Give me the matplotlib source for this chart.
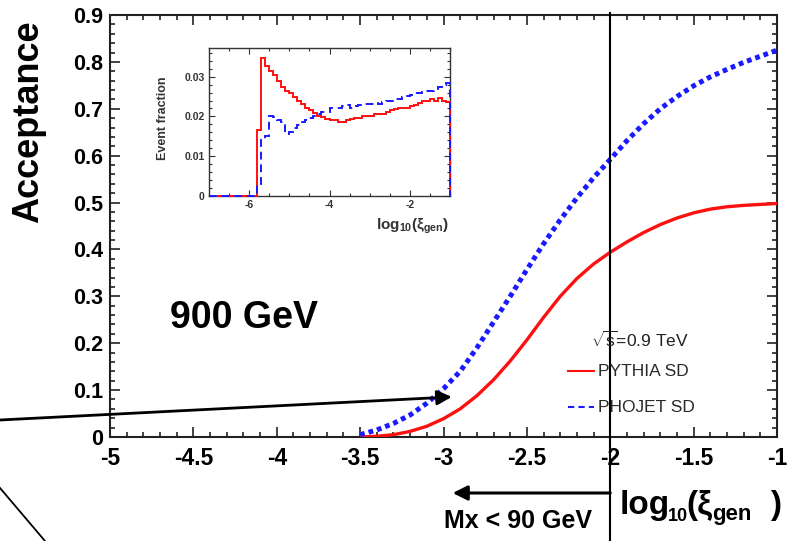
import numpy as np
import matplotlib
matplotlib.use("Agg")
import matplotlib.pyplot as plt
from matplotlib.lines import Line2D
from matplotlib.ticker import MultipleLocator

plt.rcParams['font.family'] = ['Liberation Sans', 'DejaVu Sans']
plt.rcParams['mathtext.fontset'] = 'custom'
plt.rcParams['mathtext.rm'] = 'Liberation Sans'
plt.rcParams['mathtext.bf'] = 'Liberation Sans:bold'
plt.rcParams['mathtext.it'] = 'Liberation Sans:italic'

# ---------------- data ----------------
log_xi = [-3.5, -3.4, -3.3, -3.2, -3.1, -3.0, -2.9, -2.8, -2.7, -2.6, -2.5, -2.4, -2.3,
          -2.2, -2.1, -2.0, -1.9, -1.8, -1.7, -1.6, -1.5, -1.4, -1.3, -1.2, -1.1, -1.0]
pythia_acc = [0.000, 0.0015, 0.005, 0.012, 0.023, 0.039, 0.060, 0.088, 0.122, 0.162, 0.207,
              0.255, 0.300, 0.338, 0.369, 0.394, 0.416, 0.436, 0.453, 0.467, 0.478, 0.486,
              0.491, 0.494, 0.496, 0.498]
phojet_acc = [0.005, 0.015, 0.029, 0.047, 0.072, 0.103, 0.140, 0.190, 0.245, 0.300, 0.357,
              0.412, 0.463, 0.510, 0.553, 0.592, 0.632, 0.668, 0.700, 0.726, 0.749, 0.768,
              0.784, 0.799, 0.812, 0.825]

# inset histograms: 0.1-wide bins from -7 to -1
hist_edges = np.round(np.arange(-7.0, -0.95, 0.1), 2)
pythia_frac = [0.0] * 12 + [
    0.0167, 0.0348, 0.0328, 0.0315, 0.0303, 0.0290, 0.0275, 0.0265, 0.0258, 0.0250,
    0.0240, 0.0232, 0.0222, 0.0215, 0.0208, 0.0202, 0.0198, 0.0193, 0.0190, 0.0192,
    0.0185, 0.0186, 0.0190, 0.0193, 0.0197, 0.0195, 0.0200, 0.0202, 0.0202, 0.0205,
    0.0205, 0.0205, 0.0210, 0.0215, 0.0218, 0.0220, 0.0220, 0.0222, 0.0225, 0.0228,
    0.0235, 0.0240, 0.0238, 0.0245, 0.0240, 0.0247, 0.0240, 0.0237]
phojet_frac = [0.0] * 12 + [
    0.0031, 0.0140, 0.0150, 0.0200, 0.0198, 0.0190, 0.0185, 0.0157, 0.0162, 0.0172,
    0.0178, 0.0185, 0.0190, 0.0195, 0.0200, 0.0205, 0.0210, 0.0212, 0.0220, 0.0222,
    0.0222, 0.0225, 0.0228, 0.0220, 0.0225, 0.0228, 0.0232, 0.0230, 0.0232, 0.0235,
    0.0232, 0.0237, 0.0240, 0.0240, 0.0243, 0.0245, 0.0250, 0.0252, 0.0255, 0.0260,
    0.0260, 0.0262, 0.0265, 0.0265, 0.0270, 0.0273, 0.0278, 0.0283]

main_xticks = [-5, -4.5, -4, -3.5, -3, -2.5, -2, -1.5, -1]
main_xticklabels = ['-5', '-4.5', '-4', '-3.5', '-3', '-2.5', '-2', '-1.5', '-1']
main_yticks = [0, 0.1, 0.2, 0.3, 0.4, 0.5, 0.6, 0.7, 0.8, 0.9]
main_yticklabels = ['0', '0.1', '0.2', '0.3', '0.4', '0.5', '0.6', '0.7', '0.8', '0.9']
inset_xticks = [-6, -4, -2]
inset_yticks = [0, 0.01, 0.02, 0.03]
inset_yticklabels = ['0', '0.01', '0.02', '0.03']

W, H = 798, 541
fig = plt.figure(figsize=(W / 100, H / 100), dpi=100)


def fx(x):
    return x / W


def fy(y):
    return 1 - y / H


# ---------------- main axes ----------------
ax = fig.add_axes([fx(110), fy(437), (777 - 110) / W, (437 - 15) / H])
ax.plot(log_xi, pythia_acc, color='#ff1010', lw=2.4, solid_capstyle='butt', zorder=3)
ax.plot(log_xi, phojet_acc, color='#1a1aff', lw=3.6, linestyle=(0, (0.95, 0.8)),
        dash_capstyle='butt', zorder=3)
ax.set_xlim(-5, -1)
ax.set_ylim(0, 0.9)
ax.set_xticks(main_xticks)
ax.set_xticklabels(main_xticklabels)
ax.set_yticks(main_yticks)
ax.set_yticklabels(main_yticklabels)
ax.xaxis.set_minor_locator(MultipleLocator(0.1))
ax.yaxis.set_minor_locator(MultipleLocator(0.02))
ax.tick_params(which='both', direction='in', top=True, right=True, width=1.2, color='#222')
ax.tick_params(which='major', length=7)
ax.tick_params(which='minor', length=3.5)
ax.tick_params(axis='x', labelsize=16.5, pad=7)
ax.tick_params(axis='y', labelsize=15.5, pad=5)
for lab in ax.get_xticklabels() + ax.get_yticklabels():
    lab.set_fontweight('bold')
for s in ax.spines.values():
    s.set_linewidth(1.5)
    s.set_color('#222')

# vertical line at log10(xi) = -2
ax.axvline(-2, ymin=-0.25, ymax=1.005, color='black', lw=1.5, clip_on=False, zorder=5)

# axis titles
fig.text(fx(29), fy(122), 'Acceptance', rotation=90, fontsize=26, fontweight='bold',
         ha='center', va='center')
# x title built from pieces: log_10(xi_gen )
fig.text(fx(620), fy(514), 'log', fontsize=24, fontweight='bold', ha='left', va='baseline')
fig.text(fx(668), fy(521), '10', fontsize=13, fontweight='bold', ha='left', va='baseline')
fig.text(fx(686), fy(514), '(\u03be', fontsize=24, fontweight='bold', ha='left', va='baseline')
fig.text(fx(712), fy(520), 'gen', fontsize=16, fontweight='bold', ha='left', va='baseline')
fig.text(fx(770), fy(514), ')', fontsize=24, fontweight='bold', ha='left', va='baseline')

# annotations
fig.text(fx(244), fy(318), '900 GeV', fontsize=27, fontweight='bold',
         ha='center', va='center')
ax.annotate('', xy=(-2.945, -0.1327), xytext=(-2.0, -0.1327),
            xycoords=('data', 'axes fraction'), textcoords=('data', 'axes fraction'),
            arrowprops=dict(arrowstyle='-|>', color='black', lw=2.2,
                            mutation_scale=22, shrinkA=0, shrinkB=0),
            annotation_clip=False)
fig.text(fx(518), fy(521), 'Mx < 90 GeV', fontsize=18, fontweight='bold',
         ha='center', va='center')
ax.annotate('', xy=(-2.95, 0.0855), xytext=(fx(0), fy(420)),
            xycoords='data', textcoords='figure fraction',
            arrowprops=dict(arrowstyle='-|>', color='black', lw=2.0,
                            mutation_scale=22, shrinkA=0, shrinkB=0),
            annotation_clip=False)
fig.add_artist(Line2D([fx(0), fx(45)], [fy(488), fy(541)], color='black', lw=1.3,
                      transform=fig.transFigure))

# legend
fig.text(fx(591), fy(347), r'$\sqrt{\mathrm{s}}$=0.9 TeV', fontsize=12.5, color='#222',
         ha='left', va='baseline')
fig.add_artist(Line2D([fx(568), fx(594)], [fy(371), fy(371)], color='#ff1010', lw=1.5,
                      transform=fig.transFigure))
fig.text(fx(598), fy(372), 'PYTHIA SD', fontsize=12.5, color='#2a2a2a',
         ha='left', va='center')
fig.add_artist(Line2D([fx(568), fx(594)], [fy(407), fy(407)], color='#1a1aff', lw=1.5,
                      linestyle=(0, (3, 2)), transform=fig.transFigure))
fig.text(fx(598), fy(408), 'PHOJET SD', fontsize=12.5, color='#2a2a2a',
         ha='left', va='center')

# ---------------- inset ----------------
axi = fig.add_axes([fx(209), fy(196), (450 - 209) / W, (196 - 48) / H])
axi.stairs(pythia_frac, hist_edges, color='#ff1010', lw=1.4, baseline=0,
           zorder=4, clip_on=False)
axi.stairs(phojet_frac, hist_edges, color='#1a1aff', lw=1.4, baseline=0,
           linestyle=(0, (4, 2.5)), zorder=4, clip_on=False)
axi.set_xlim(-7, -1)
axi.set_ylim(0, 0.0372)
axi.set_xticks(inset_xticks)
axi.set_xticklabels([str(v) for v in inset_xticks])
axi.set_yticks(inset_yticks)
axi.set_yticklabels(inset_yticklabels)
axi.xaxis.set_minor_locator(MultipleLocator(0.5))
axi.yaxis.set_minor_locator(MultipleLocator(0.002))
axi.tick_params(which='both', direction='in', top=True, right=True, width=0.8,
                color='#333', labelsize=7.5, pad=3)
axi.tick_params(which='major', length=4)
axi.tick_params(which='minor', length=2)
for lab in axi.get_xticklabels() + axi.get_yticklabels():
    lab.set_fontweight('bold')
    lab.set_color('#333')
for s in axi.spines.values():
    s.set_linewidth(1.0)
    s.set_color('#333')
fig.text(fx(163), fy(118), 'Event fraction', rotation=90, fontsize=9, fontweight='bold',
         color='#333', ha='center', va='center')
fig.text(fx(449), fy(230), r'$\mathbf{log_{10}(\xi_{gen})}$', fontsize=11, color='#333',
         ha='right', va='baseline')

fig.savefig('out.png', dpi=100)
